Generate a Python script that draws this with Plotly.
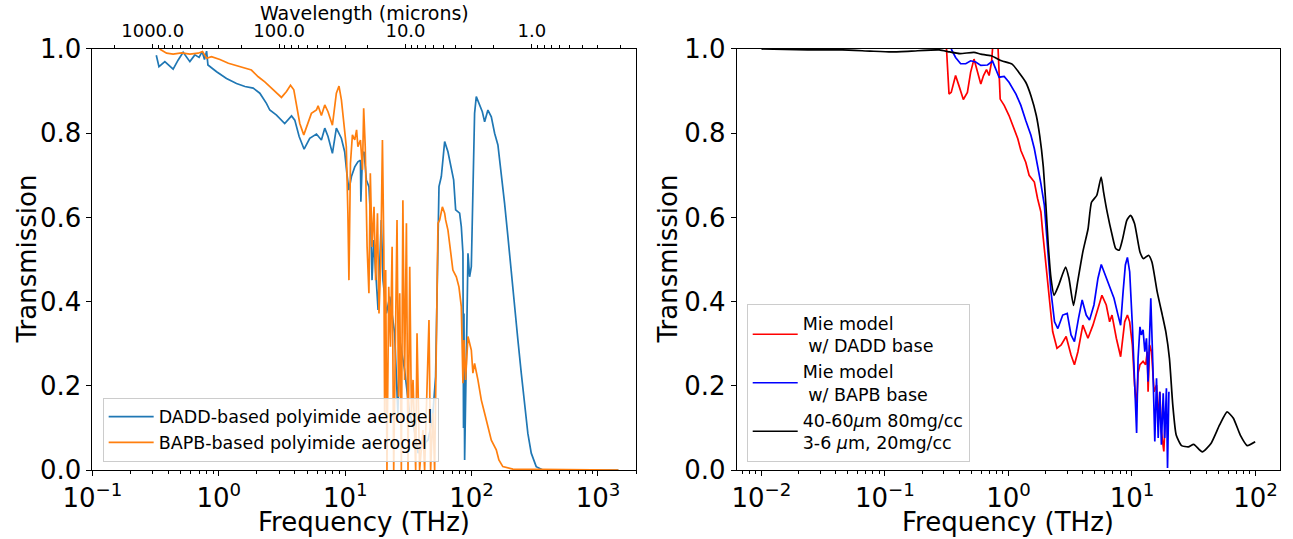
import math
import plotly.graph_objects as go

# ---------------- Left panel: measured transmission (frequency THz, transmission) ----------------
dadd_points = [
    (0.32, 0.985), (0.336, 0.958), (0.374, 0.970), (0.435, 0.952), (0.477, 0.974), (0.522, 0.992),
    (0.59, 0.970), (0.646, 0.986), (0.698, 0.980), (0.738, 0.994), (0.77, 0.975), (0.80, 0.995),
    (0.82, 0.962), (0.96, 0.946), (1.15, 0.930), (1.38, 0.918), (1.61, 0.911), (1.87, 0.907),
    (2.11, 0.895), (2.38, 0.871), (2.53, 0.855), (2.86, 0.843), (3.32, 0.823), (3.76, 0.841),
    (3.99, 0.831), (4.32, 0.792), (4.73, 0.762), (5.24, 0.788), (5.92, 0.798), (6.48, 0.784),
    (6.89, 0.812), (7.31, 0.792), (7.92, 0.752), (8.51, 0.812), (9.32, 0.788), (9.9, 0.756),
    (10.3, 0.705), (10.7, 0.665), (11.2, 0.697), (11.9, 0.720), (12.6, 0.732), (13.2, 0.736),
    (13.3, 0.637), (13.7, 0.748), (14.1, 0.756), (14.7, 0.689), (15.4, 0.673), (15.9, 0.594),
    (16.3, 0.451), (16.8, 0.546), (17.6, 0.451), (18.2, 0.380), (19.3, 0.594), (19.9, 0.451),
    (21.2, 0.372), (22.5, 0.412), (24.6, 0.325), (26.1, 0.135), (27.0, 0.309), (29.5, 0.238),
    (32.3, 0.135), (35.0, 0.100), (37.7, 0.040), (41.0, 0.060), (45.2, 0.071), (49.0, 0.120),
    (51.9, 0.222), (54.2, 0.586), (55.2, 0.673), (57.6, 0.697), (61.2, 0.780), (65.0, 0.756),
    (69.2, 0.713), (72.1, 0.689), (74.8, 0.618), (77.5, 0.615), (80.4, 0.610), (82.9, 0.578),
    (85.4, 0.515), (86.3, 0.100), (87.0, 0.372), (88.1, 0.024), (90.8, 0.214), (92.5, 0.412),
    (93.6, 0.515), (96.4, 0.459), (99.5, 0.483), (102.4, 0.689), (105.6, 0.847), (108.9, 0.887),
    (110.2, 0.883), (115.6, 0.867), (121.6, 0.851), (126.8, 0.827), (134.6, 0.855), (143.2, 0.839),
    (152.1, 0.800), (161.5, 0.772), (171.7, 0.705), (182.3, 0.634), (193.7, 0.555), (206.0, 0.467),
    (218.8, 0.388), (232.4, 0.309), (247.2, 0.230), (262.4, 0.150), (278.7, 0.087), (296.5, 0.040),
    (324.5, 0.008), (366.0, 0.0), (1450.0, 0.0),
]

bapb_points = [
    (0.34, 1.0), (0.386, 0.990), (0.435, 0.988), (0.507, 0.991), (0.59, 0.988), (0.686, 0.990),
    (0.743, 0.994), (0.80, 0.978), (0.875, 0.982), (1.02, 0.975), (1.19, 0.966), (1.38, 0.960),
    (1.61, 0.954), (1.81, 0.950), (2.05, 0.934), (2.31, 0.922), (2.61, 0.907), (2.86, 0.895),
    (3.13, 0.885), (3.43, 0.899), (3.69, 0.914), (3.92, 0.903), (4.11, 0.867), (4.37, 0.823),
    (4.70, 0.796), (5.08, 0.823), (5.40, 0.847), (5.92, 0.855), (6.10, 0.865), (6.48, 0.842),
    (6.89, 0.867), (7.31, 0.851), (7.92, 0.819), (8.51, 0.895), (8.93, 0.912), (9.33, 0.879),
    (9.73, 0.820), (10.2, 0.768), (10.5, 0.610), (10.7, 0.451), (11.0, 0.728), (11.4, 0.796),
    (11.9, 0.784), (12.3, 0.808), (12.6, 0.768), (13.2, 0.784), (13.7, 0.713), (14.0, 0.859),
    (14.4, 0.768), (14.9, 0.530), (15.4, 0.420), (15.8, 0.705), (16.3, 0.530), (16.9, 0.625),
    (17.4, 0.451), (18.0, 0.610), (18.5, 0.372), (19.1, 0.491), (19.7, 0.784), (20.2, 0.530),
    (20.5, 0.135), (20.9, 0.475), (21.4, 0.0), (22.1, 0.435), (22.8, 0.293), (23.5, 0.530),
    (24.2, 0.0), (24.9, 0.356), (25.7, 0.594), (26.4, 0.174), (27.0, 0.420), (27.8, 0.0),
    (28.6, 0.641), (29.5, 0.214), (30.5, 0.586), (31.4, 0.0), (32.4, 0.483), (33.4, 0.135),
    (34.4, 0.214), (36.1, 0.0), (37.0, 0.325), (38.8, 0.0), (41.2, 0.095), (42.5, 0.0),
    (44.7, 0.230), (46.0, 0.356), (47.4, 0.0), (49.4, 0.135), (51.0, 0.0), (53.2, 0.372),
    (54.2, 0.586), (55.9, 0.594), (58.7, 0.625), (61.2, 0.610), (62.3, 0.594), (65.0, 0.570),
    (66.9, 0.538), (69.2, 0.515), (71.1, 0.475), (75.7, 0.459), (79.4, 0.435), (82.9, 0.388),
    (85.4, 0.206), (87.0, 0.309), (89.6, 0.214), (93.6, 0.317), (99.5, 0.285), (102.4, 0.230),
    (105.6, 0.253), (112.2, 0.214), (119.4, 0.166), (126.8, 0.135), (134.6, 0.103), (143.2, 0.071),
    (156.8, 0.048), (164.4, 0.024), (176.6, 0.008), (212.0, 0.002), (1450.0, 0.0),
]

# ---------------- Right panel: Mie model curves ----------------
mie_dadd_points = [
    (0.315, 1.0), (0.330, 0.893), (0.344, 0.897), (0.373, 0.937), (0.397, 0.913), (0.431, 0.880),
    (0.465, 0.897), (0.494, 0.945), (0.526, 0.976), (0.561, 0.945), (0.597, 0.917), (0.628, 0.937),
    (0.664, 0.951), (0.697, 0.937), (0.729, 0.969), (0.743, 1.0), (0.76, 1.1), (0.81, 1.1),
    (0.824, 1.0), (0.857, 0.881), (0.923, 0.866), (1.01, 0.842), (1.11, 0.810), (1.19, 0.787),
    (1.26, 0.759), (1.38, 0.731), (1.47, 0.700), (1.62, 0.684), (1.72, 0.645), (1.83, 0.613),
    (1.89, 0.566), (2.01, 0.487), (2.14, 0.400), (2.28, 0.329), (2.47, 0.289), (2.67, 0.297),
    (2.93, 0.317), (3.21, 0.273), (3.42, 0.250), (3.65, 0.281), (4.00, 0.344), (4.40, 0.313),
    (4.83, 0.344), (5.30, 0.384), (5.71, 0.415), (6.19, 0.392), (6.59, 0.352), (6.89, 0.368),
    (7.47, 0.313), (8.09, 0.269), (8.73, 0.352), (9.18, 0.368), (9.58, 0.352), (10.07, 0.297),
    (10.5, 0.202), (10.9, 0.150), (11.2, 0.230), (11.6, 0.250), (12.3, 0.258), (12.9, 0.250),
    (13.3, 0.281), (13.5, 0.186), (13.9, 0.297), (14.4, 0.281), (15.1, 0.186), (15.8, 0.202),
    (16.3, 0.115), (16.8, 0.186), (17.3, 0.092), (18.1, 0.044), (18.7, 0.139), (19.6, 0.107),
]

mie_bapb_points = [
    (0.344, 1.0), (0.373, 0.980), (0.410, 0.965), (0.451, 0.965), (0.494, 0.972), (0.543, 0.969),
    (0.597, 0.961), (0.676, 0.962), (0.743, 0.971), (0.790, 0.953), (0.840, 0.933), (0.923, 0.935),
    (1.01, 0.921), (1.15, 0.893), (1.26, 0.866), (1.38, 0.830), (1.52, 0.795), (1.62, 0.763),
    (1.72, 0.724), (1.83, 0.680), (1.95, 0.630), (2.08, 0.534), (2.21, 0.423), (2.36, 0.352),
    (2.51, 0.336), (2.75, 0.368), (2.99, 0.372), (3.21, 0.321), (3.42, 0.305), (3.69, 0.360),
    (3.95, 0.404), (4.26, 0.368), (4.53, 0.356), (4.92, 0.392), (5.30, 0.455), (5.64, 0.488),
    (6.08, 0.463), (6.47, 0.439), (6.80, 0.427), (7.15, 0.408), (7.71, 0.368), (8.09, 0.344),
    (8.47, 0.423), (8.84, 0.487), (9.18, 0.505), (9.58, 0.471), (10.07, 0.344), (10.5, 0.226),
    (10.9, 0.088), (11.2, 0.265), (11.6, 0.340), (11.9, 0.321), (12.3, 0.333), (12.7, 0.281),
    (13.1, 0.313), (13.5, 0.210), (13.9, 0.329), (14.2, 0.408), (14.7, 0.265), (15.3, 0.068),
    (15.8, 0.218), (16.3, 0.076), (16.8, 0.186), (17.3, 0.060), (17.9, 0.182), (18.4, 0.076),
    (19.0, 0.194), (19.4, 0.005), (19.9, 0.186),
]

mix_points = [
    (0.01, 1.0), (0.0237, 0.998), (0.045, 0.998), (0.0758, 0.995), (0.112, 0.993), (0.164, 0.995),
    (0.275, 0.998), (0.334, 0.993), (0.405, 0.989), (0.525, 0.992), (0.597, 0.988), (0.724, 0.984),
    (0.879, 0.972), (1.07, 0.964), (1.21, 0.945), (1.38, 0.921), (1.52, 0.889), (1.68, 0.842),
    (1.79, 0.794), (1.91, 0.723), (2.01, 0.628), (2.10, 0.534), (2.21, 0.455), (2.34, 0.415),
    (2.55, 0.439), (2.90, 0.482), (3.09, 0.455), (3.36, 0.391), (3.63, 0.447), (4.00, 0.518),
    (4.41, 0.573), (4.70, 0.636), (5.18, 0.652), (5.63, 0.696), (5.89, 0.660), (6.29, 0.613),
    (6.92, 0.557), (7.38, 0.526), (7.88, 0.522), (8.40, 0.549), (9.08, 0.593), (9.75, 0.605),
    (10.5, 0.585), (11.6, 0.518), (12.4, 0.502), (13.6, 0.510), (14.5, 0.494), (16.0, 0.423),
    (17.6, 0.368), (18.8, 0.328), (20.1, 0.265), (21.4, 0.154), (22.8, 0.083), (25.2, 0.058),
    (28.6, 0.055), (31.6, 0.061), (37.1, 0.043), (43.6, 0.063), (51.2, 0.107), (58.9, 0.138),
    (66.2, 0.123), (75.3, 0.083), (85.7, 0.058), (99.4, 0.067),
]

# ---------------- Tick labels ----------------
left_xticks = [0.1, 1, 10, 100, 1000]
left_xticktext = ["10<sup>\u22121</sup>", "10<sup>0</sup>", "10<sup>1</sup>", "10<sup>2</sup>", "10<sup>3</sup>"]
right_xticks = [0.01, 0.1, 1, 10, 100]
right_xticktext = ["10<sup>\u22122</sup>", "10<sup>\u22121</sup>", "10<sup>0</sup>", "10<sup>1</sup>", "10<sup>2</sup>"]
wavelength_ticks = [1000.0, 100.0, 10.0, 1.0]          # microns
wavelength_ticktext = ["1000.0", "100.0", "10.0", "1.0"]
y_ticks = [0.0, 0.2, 0.4, 0.6, 0.8, 1.0]

C_UM_THZ = 299.792458  # lambda(um) = c / f(THz)


def unzip(points):
    return [p[0] for p in points], [p[1] for p in points]


FONT = "DejaVu Sans"
TICK_FONT = dict(family=FONT, size=26, color="black")
TITLE_FONT = dict(family=FONT, size=26, color="black")
LEGEND_FONT = dict(family=FONT, size=17.5, color="black")

minor_freq = [m * 10 ** e for e in range(-3, 4) for m in range(2, 10)]
wl_minor = [m * 10 ** e for e in range(-1, 4) for m in range(2, 10)]
wl_minor_freq = [C_UM_THZ / w for w in wl_minor if 0.1 <= C_UM_THZ / w <= 2000]

fig = go.Figure()

x, y = unzip(dadd_points)
fig.add_trace(go.Scatter(x=x, y=y, mode="lines", name="DADD-based polyimide aerogel",
                         line=dict(color="#1f77b4", width=1.7), xaxis="x", yaxis="y", legend="legend"))
x, y = unzip(bapb_points)
fig.add_trace(go.Scatter(x=x, y=y, mode="lines", name="BAPB-based polyimide aerogel",
                         line=dict(color="#ff7f0e", width=1.7), xaxis="x", yaxis="y", legend="legend"))
# invisible trace so that the wavelength (top) axis is drawn
fig.add_trace(go.Scatter(x=[1.0], y=[None], mode="lines", showlegend=False, hoverinfo="skip",
                         xaxis="x3", yaxis="y"))

x, y = unzip(mie_dadd_points)
fig.add_trace(go.Scatter(x=x, y=y, mode="lines", name="Mie model<br>\u00a0w/ DADD base",
                         line=dict(color="#ff0000", width=1.7), xaxis="x2", yaxis="y2", legend="legend2"))
x, y = unzip(mie_bapb_points)
fig.add_trace(go.Scatter(x=x, y=y, mode="lines", name="Mie model<br>\u00a0w/ BAPB base",
                         line=dict(color="#0000ff", width=1.7), xaxis="x2", yaxis="y2", legend="legend2"))
x, y = unzip(mix_points)
fig.add_trace(go.Scatter(x=x, y=y, mode="lines",
                         name="40-60<i>\u03bc</i>m 80mg/cc<br>3-6 <i>\u03bc</i>m, 20mg/cc",
                         line=dict(color="#000000", width=1.7, shape="spline", smoothing=0.5),
                         xaxis="x2", yaxis="y2", legend="legend2"))

Y_DOMAIN = [0.1280, 0.9091]
LEFT_DOMAIN = [0.0715, 0.4919]
RIGHT_DOMAIN = [0.5698, 0.9901]

common_x = dict(type="log", showgrid=False, zeroline=False, showline=True, linecolor="black",
                linewidth=1, mirror=True, ticks="outside", ticklen=5, tickwidth=1, tickcolor="black",
                tickfont=TICK_FONT, automargin=False, tickmode="array",
                minor=dict(tickmode="array", tickvals=minor_freq, ticks="outside", ticklen=3,
                           tickwidth=0.8, tickcolor="black", showgrid=False))
common_y = dict(range=[0, 1], showgrid=False, zeroline=False, showline=True, linecolor="black",
                linewidth=1, mirror=True, ticks="outside", ticklen=5, tickwidth=1, tickcolor="black",
                tickfont=TICK_FONT, tickmode="array", tickvals=y_ticks, tickformat=".1f",
                automargin=False)

# axis titles placed as annotations for exact positioning
title_annotations = [
    dict(text="Frequency (THz)", xref="x domain", x=0.5, yref="paper", y=0.0,
         xanchor="center", yanchor="bottom", showarrow=False, font=TITLE_FONT),
    dict(text="Frequency (THz)", xref="x2 domain", x=0.5, yref="paper", y=0.0,
         xanchor="center", yanchor="bottom", showarrow=False, font=TITLE_FONT),
    dict(text="Transmission", xref="paper", x=27 / 1293, yref="y domain", y=0.5,
         xanchor="center", yanchor="middle", textangle=-90, showarrow=False, font=TITLE_FONT),
    dict(text="Transmission", xref="paper", x=668 / 1293, yref="y2 domain", y=0.5,
         xanchor="center", yanchor="middle", textangle=-90, showarrow=False, font=TITLE_FONT),
    dict(text="Wavelength (microns)", xref="x domain", x=0.5, yref="paper", y=1.0,
         xanchor="center", yanchor="top", showarrow=False,
         font=dict(family=FONT, size=19, color="black")),
]

fig.update_layout(
    template="none",
    width=1293, height=539,
    margin=dict(l=0, r=0, t=0, b=0),
    paper_bgcolor="white", plot_bgcolor="white",
    font=dict(family=FONT, color="black"),
    xaxis=dict(common_x, domain=LEFT_DOMAIN, anchor="y",
               range=[-1, math.log10(2000)], tickvals=left_xticks, ticktext=left_xticktext),
    yaxis=dict(common_y, domain=Y_DOMAIN, anchor="x"),
    xaxis3=dict(type="log", overlaying="x", side="top", anchor="y",
                range=[-1, math.log10(2000)], showgrid=False, zeroline=False, showline=False,
                ticks="outside", ticklen=4, tickwidth=1, tickcolor="black",
                tickmode="array", tickvals=[C_UM_THZ / w for w in wavelength_ticks],
                ticktext=wavelength_ticktext, automargin=False,
                tickfont=dict(family=FONT, size=18, color="black"),
                minor=dict(tickmode="array", tickvals=wl_minor_freq, ticks="outside", ticklen=2.5,
                           tickwidth=0.8, tickcolor="black", showgrid=False)),
    xaxis2=dict(common_x, domain=RIGHT_DOMAIN, anchor="y2",
                range=[-2.2, 2.2], tickvals=right_xticks, ticktext=right_xticktext),
    yaxis2=dict(common_y, domain=Y_DOMAIN, anchor="x2"),
    annotations=title_annotations,
    legend=dict(x=0.0794, y=0.1434, xanchor="left", yanchor="bottom", itemwidth=45,
                bgcolor="rgba(255,255,255,0.8)", bordercolor="#cccccc", borderwidth=1,
                font=LEGEND_FONT, tracegroupgap=0),
    legend2=dict(x=0.5775, y=0.1429, xanchor="left", yanchor="bottom", itemwidth=45,
                 bgcolor="rgba(255,255,255,0.8)", bordercolor="#cccccc", borderwidth=1,
                 font=LEGEND_FONT, tracegroupgap=0),
    showlegend=True,
)

fig.write_html("out.html", config={"displayModeBar": False},
               post_script="document.body.style.margin='0';document.body.style.padding='0';"
                           "document.body.style.overflow='hidden';")
